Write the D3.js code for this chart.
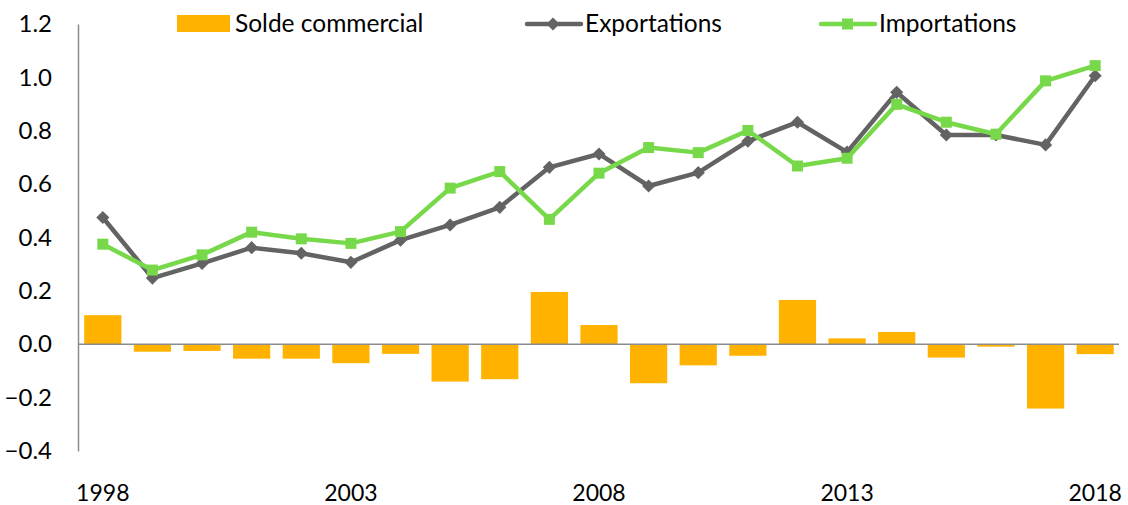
<!DOCTYPE html>
<html>
<head>
<meta charset="utf-8">
<script src="https://cdn.jsdelivr.net/npm/d3@7"></script>
<style>
  html, body { margin: 0; padding: 0; background: #fff; }
  svg text { font-family: Lato, "Open Sans", sans-serif; fill: #000; }
</style>
</head>
<body>
<svg id="chart" width="1128" height="505"></svg>
<script>
const years = [1998,1999,2000,2001,2002,2003,2004,2005,2006,2007,2008,2009,2010,2011,2012,2013,2014,2015,2016,2017,2018];
const solde = [0.109,-0.028,-0.025,-0.054,-0.054,-0.071,-0.036,-0.140,-0.131,0.196,0.072,-0.146,-0.079,-0.043,0.166,0.022,0.046,-0.050,-0.009,-0.241,-0.037];
const exportations = [0.475,0.248,0.303,0.362,0.341,0.307,0.390,0.447,0.513,0.663,0.713,0.593,0.643,0.761,0.832,0.720,0.944,0.784,0.784,0.747,1.006];
const importations = [0.375,0.278,0.335,0.420,0.395,0.378,0.422,0.585,0.647,0.468,0.641,0.737,0.718,0.801,0.668,0.697,0.899,0.832,0.787,0.987,1.044];
const yTicks = [-0.4,-0.2,0.0,0.2,0.4,0.6,0.8,1.0,1.2];
const xLabels = [1998,2003,2008,2013,2018];
const seriesNames = ["Solde commercial","Exportations","Importations"];

const colBar = "#FFB300", colExp = "#636363", colImp = "#77D94A", colAxis = "#8C8C8C";

const svg = d3.select("#chart");
const x = d3.scaleBand().domain(years).range([78, 1120]).paddingInner(0.25).paddingOuter(0.125);
const y = d3.scaleLinear().domain([-0.4, 1.2]).range([451, 24]);
const cx = d => x(d) + x.bandwidth() / 2;

// bars
svg.append("g").selectAll("rect").data(years).join("rect")
  .attr("x", d => x(d))
  .attr("width", x.bandwidth())
  .attr("y", (d, i) => y(Math.max(0, solde[i])))
  .attr("height", (d, i) => Math.abs(y(solde[i]) - y(0)))
  .attr("fill", colBar);

// axes
const yAxis = d3.axisLeft(y).tickValues(yTicks).tickSize(0).tickPadding(26).tickFormat(d3.format(".1f"));
const gy = svg.append("g").attr("transform", "translate(78,0)").call(yAxis);
gy.select(".domain").attr("stroke", colAxis).attr("stroke-width", 1.5);
gy.selectAll("text").attr("font-size", 24).attr("font-family", "Lato, sans-serif").attr("fill", "#000");

const xAxis = d3.axisBottom(x).tickValues(xLabels).tickSize(0).tickPadding(0).tickFormat(d3.format("d"));
const gx = svg.append("g").attr("transform", `translate(0,${y(0)})`).call(xAxis);
gx.select(".domain").attr("stroke", colAxis).attr("stroke-width", 1.5).attr("d", `M78,0H1119`);
gx.selectAll("text").attr("font-size", 23).attr("font-family", "Lato, sans-serif").attr("fill", "#000")
  .attr("y", 501 - y(0)).attr("dy", 0);

// lines
const line = vals => d3.line().x((d, i) => cx(years[i])).y(d => y(d))(vals);
svg.append("path").attr("d", line(exportations)).attr("fill", "none").attr("stroke", colExp).attr("stroke-width", 4.5).attr("stroke-linejoin", "round");
svg.append("g").selectAll("path").data(exportations).join("path")
  .attr("d", d3.symbol(d3.symbolDiamond2, 110)())
  .attr("transform", (d, i) => `translate(${cx(years[i])},${y(d)})`)
  .attr("fill", colExp);

svg.append("path").attr("d", line(importations)).attr("fill", "none").attr("stroke", colImp).attr("stroke-width", 4.5).attr("stroke-linejoin", "round");
svg.append("g").selectAll("rect").data(importations).join("rect")
  .attr("x", (d, i) => cx(years[i]) - 5.5).attr("y", d => y(d) - 5.5)
  .attr("width", 11).attr("height", 11).attr("fill", colImp);

// legend
const lg = svg.append("g");
lg.append("rect").attr("x", 177).attr("y", 15).attr("width", 53).attr("height", 17).attr("fill", colBar);
lg.append("text").attr("x", 235).attr("y", 32).attr("font-size", 24.5).text(seriesNames[0]);

lg.append("line").attr("x1", 527).attr("x2", 581).attr("y1", 24).attr("y2", 24).attr("stroke", colExp).attr("stroke-width", 4.5).attr("stroke-linecap", "round");
lg.append("path").attr("d", d3.symbol(d3.symbolDiamond2, 110)()).attr("transform", "translate(553,24)").attr("fill", colExp);
lg.append("text").attr("x", 585).attr("y", 32).attr("font-size", 24.5).text(seriesNames[1]);

lg.append("line").attr("x1", 821).attr("x2", 875).attr("y1", 24).attr("y2", 24).attr("stroke", colImp).attr("stroke-width", 4.5).attr("stroke-linecap", "round");
lg.append("rect").attr("x", 842).attr("y", 18.5).attr("width", 11).attr("height", 11).attr("fill", colImp);
lg.append("text").attr("x", 879).attr("y", 32).attr("font-size", 24.5).text(seriesNames[2]);
</script>
</body>
</html>
